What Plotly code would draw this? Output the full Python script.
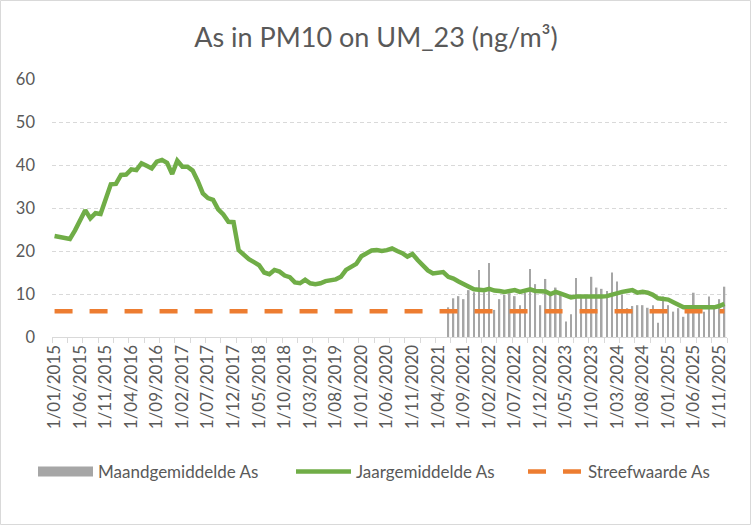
import pandas as pd
import plotly.graph_objects as go

# monthly categories jan 2015 - dec 2025
maanden = [d.strftime("1/%m/%Y") for d in pd.date_range("2015-01-01", "2025-12-01", freq="MS")]

jaargemiddelde = [
    23.5, 23.3, 23.0, 22.8, 24.8, 27.3, 29.5, 27.6, 28.8, 28.6, 32.0, 35.5,
    35.6, 37.7, 37.8, 39.0, 38.8, 40.4, 39.8, 39.2, 40.8, 41.2, 40.5, 37.9,
    41.0, 39.6, 39.6, 38.7, 36.3, 33.4, 32.3, 31.9, 29.7, 28.5, 26.8, 26.7,
    20.2, 19.1, 18.1, 17.4, 16.7, 15.0, 14.6, 15.6, 15.2, 14.3, 13.9, 12.7,
    12.5, 13.3, 12.5, 12.3, 12.5, 13.0, 13.3, 13.4, 14.0, 15.6, 16.3, 17.0,
    18.8, 19.6, 20.1, 20.2, 20.0, 20.2, 20.6, 20.0, 19.5, 18.7, 19.3, 17.9,
    16.5, 15.5, 14.8, 15.0, 15.1, 14.0, 13.6, 12.9, 12.2, 11.5, 11.1, 11.0,
    10.9, 11.2, 10.8, 10.7, 10.5, 10.7, 10.9, 10.5, 10.8, 11.1, 10.7, 10.7,
    10.6, 10.0, 10.5, 10.1, 9.7, 9.2, 9.4, 9.4, 9.3, 9.2, 9.3, 9.4,
    9.5, 9.9, 10.2, 10.5, 10.7, 10.9, 10.3, 10.5, 10.3, 9.8, 9.0, 8.8,
    8.7, 8.1, 7.5, 6.9, 6.9, 6.9, 6.9, 6.7, 6.8, 6.9, 7.2, 7.7,
]

# monthly values only from jun 2021 onwards
maand_start = 77
maandgemiddelde = [
    6.9, 9.0, 9.5, 8.8, 10.9, 10.4, 15.6, 10.4, 17.2, 6.3, 8.8, 9.8,
    10.2, 9.5, 7.4, 10.3, 15.8, 12.3, 7.4, 13.5, 9.6, 11.5, 10.0, 3.6,
    5.3, 13.7, 9.8, 9.5, 14.0, 11.5, 11.2, 10.7, 15.0, 12.9, 9.8, 6.7,
    7.2, 7.4, 7.4, 6.8, 7.4, 3.3, 9.4, 7.4, 5.9, 6.7, 4.7, 6.9,
    10.3, 6.9, 5.9, 9.4, 7.4, 8.8, 11.7,
]
maand_x = maanden[maand_start:maand_start + len(maandgemiddelde)]

streefwaarde = [6] * len(maanden)

grijs = "#595959"
fnt = "Lato"

fig = go.Figure()
fig.add_trace(go.Bar(x=maand_x, y=maandgemiddelde, name="Maandgemiddelde As", showlegend=False,
                     marker=dict(color="#a6a6a6", line_width=0), width=0.32))
# legend entry only (wide grey swatch like excel)
fig.add_trace(go.Scatter(x=[maand_x[0]], y=[None], name="Maandgemiddelde As", mode="lines",
                         line=dict(color="#a6a6a6", width=10), legend="legend", hoverinfo="skip"))
fig.add_trace(go.Scatter(x=maanden, y=jaargemiddelde, name="Jaargemiddelde As", mode="lines",
                         line=dict(color="#70ad47", width=4.5), legend="legend2"))
fig.add_trace(go.Scatter(x=maanden, y=streefwaarde, name="Streefwaarde As", mode="lines",
                         line=dict(color="#ed7d31", width=4.5, dash="18px,17px"), legend="legend3"))
# invisible trace so the second axis can draw a tick per month
fig.add_trace(go.Scatter(x=maanden, y=streefwaarde, xaxis="x2", mode="lines",
                         line=dict(width=0), showlegend=False, hoverinfo="skip", opacity=0))

leg = dict(orientation="h", xanchor="left", y=-0.523, yanchor="middle",
           font=dict(size=17, color=grijs), itemwidth=55, bgcolor="rgba(0,0,0,0)")

fig.update_layout(
    width=752, height=526,
    margin=dict(l=52, r=25, t=79, b=189),
    paper_bgcolor="white", plot_bgcolor="white",
    font=dict(family=fnt, color=grijs),
    title=dict(text="As in PM10 on UM_23 (ng/m³)", x=0.5, xanchor="center",
               y=1 - 38 / 526, yanchor="middle", yref="container",
               font=dict(size=27, color=grijs, family=fnt)),
    showlegend=True,
    legend=dict(leg, x=(33 - 52) / 675),
    legend2=dict(leg, x=(291 - 52) / 675),
    legend3=dict(leg, x=(523 - 52) / 675),
    xaxis=dict(type="category", categoryorder="array", categoryarray=maanden,
               range=[-0.5, len(maanden) - 0.5],
               tickvals=maanden[::5], tickangle=-90, ticks="",
               tickfont=dict(size=17, color=grijs),
               showline=True, linecolor="#d9d9d9", linewidth=1, showgrid=False),
    xaxis2=dict(type="category", categoryorder="array", categoryarray=maanden,
                overlaying="x", anchor="y", side="bottom",
                range=[-0.5, len(maanden) - 0.5], showticklabels=False,
                ticks="outside", tickson="boundaries", ticklen=5, tickcolor="#d9d9d9",
                showgrid=False, showline=False),
    yaxis=dict(range=[0, 60], dtick=10, showgrid=True, gridcolor="#d9d9d9",
               griddash="4px,3px", zeroline=False, showline=False,
               tickfont=dict(size=16.5, color=grijs), ticklabelstandoff=16),
    shapes=[dict(type="rect", xref="paper", yref="paper",
                 x0=-51.5 / 675, x1=(750.5 - 52) / 675, y0=(337 - 524.5) / 258,
                 y1=(337 - 0.5) / 258, line=dict(color="#d9d9d9", width=1),
                 fillcolor="rgba(0,0,0,0)", layer="below")],
)

fig.write_html("out.html", config={"displayModeBar": False},
               post_script="document.body.style.margin='0';")
